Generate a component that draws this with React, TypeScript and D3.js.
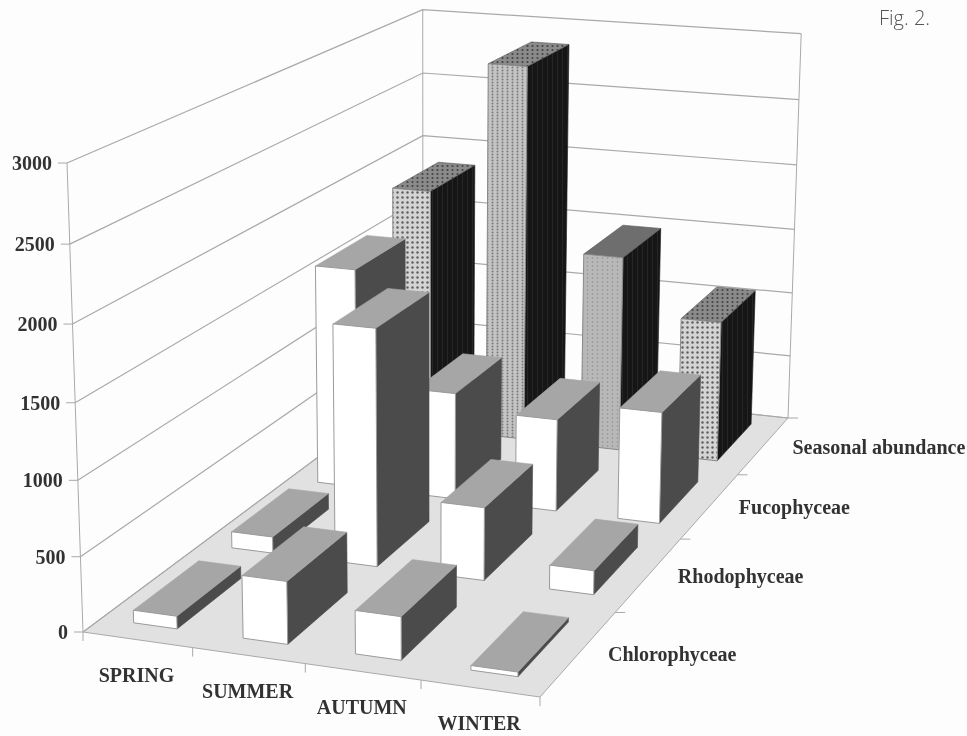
import * as d3 from "d3";

type Pt = [number, number];

const seasons = ["SPRING", "SUMMER", "AUTUMN", "WINTER"];
const groups = ["Chlorophyceae", "Rhodophyceae", "Fucophyceae", "Seasonal abundance"];
const chlorophyceae = [85, 415, 285, 30];
const rhodophyceae = [115, 1645, 505, 165];
const fucophyceae = [1610, 780, 670, 805];
const seasonalAbundance = [1855, 2850, 1480, 1060];
const yTicks = [0, 500, 1000, 1500, 2000, 2500, 3000];
const rows = [chlorophyceae, rhodophyceae, fucophyceae, seasonalAbundance];

const width = 967;
const height = 736;

/* box corners */
const O: Pt = [83, 632];
const B: Pt = [540, 697];
const C: Pt = [788, 418];
const D: Pt = [423, 379];
const E: Pt = [67, 163];
const zPerspective = -0.044;

// projective map of the unit cube, from the corners above
function makeProjection() {
  const rhs: Pt = [C[0] + O[0] - B[0] - D[0], C[1] + O[1] - B[1] - D[1]];
  const a: Pt = [B[0] - C[0], B[1] - C[1]];
  const b: Pt = [D[0] - C[0], D[1] - C[1]];
  const det = a[0] * b[1] - a[1] * b[0];
  const g = (rhs[0] * b[1] - rhs[1] * b[0]) / det;
  const h = (a[0] * rhs[1] - a[1] * rhs[0]) / det;
  const i = zPerspective;
  const ux = [0, 1].map((k) => (1 + g) * B[k] - O[k]);
  const uy = [0, 1].map((k) => (1 + h) * D[k] - O[k]);
  const uz = [0, 1].map((k) => (1 + i) * E[k] - O[k]);
  return (x: number, y: number, z: number): Pt => {
    const w = 1 + g * x + h * y + i * z;
    return [
      (ux[0] * x + uy[0] * y + uz[0] * z + O[0]) / w,
      (ux[1] * x + uy[1] * y + uz[1] * z + O[1]) / w,
    ];
  };
}

const project = makeProjection();
const xBand = d3.scaleBand<string>().domain(seasons).range([0, 1]).paddingInner(0.6).paddingOuter(0.3);
const depthBand = d3.scaleBand<string>().domain(groups).range([0, 1]).paddingInner(0.35).paddingOuter(0.17);
const zScale = d3.scaleLinear().domain([0, 3000]).range([0, 1]);
const poly = d3.line<Pt>().curve(d3.curveLinearClosed);

const GRID = "#a9a9a9";
const INK = "#333";
const SERIF = "'Liberation Serif', serif";

function Bar({ season, group, value, row, col }: { season: string; group: string; value: number; row: number; col: number }) {
  const x0 = xBand(season)!;
  const x1 = x0 + xBand.bandwidth();
  const y0 = depthBand(group)!;
  const y1 = y0 + depthBand.bandwidth();
  const z = zScale(value);
  const back = row === 3;
  const front = back ? `url(#${col === 1 ? "fineFront" : col === 2 ? "greyFront" : "dotFront"})` : "#ffffff";
  const top = back ? `url(#${col === 2 ? "greyTop" : "dotTop"})` : "#a6a6a6";
  const side = back ? "url(#darkSide)" : "#4b4b4b";
  return (
    <g>
      <path
        d={poly([project(x1, y0, 0), project(x1, y1, 0), project(x1, y1, z), project(x1, y0, z)])!}
        fill={side}
        stroke={back ? "#161616" : "#4b4b4b"}
        strokeWidth={0.6}
      />
      <path
        d={poly([project(x0, y0, z), project(x1, y0, z), project(x1, y1, z), project(x0, y1, z)])!}
        fill={top}
        stroke={back ? "#555" : "#a6a6a6"}
        strokeWidth={0.6}
      />
      <path
        d={poly([project(x0, y0, 0), project(x1, y0, 0), project(x1, y0, z), project(x0, y0, z)])!}
        fill={front}
        stroke={back ? "#888" : "#9a9a9a"}
        strokeWidth={1}
      />
    </g>
  );
}

export default function App() {
  return (
    <svg
      width={width}
      height={height}
      style={{ position: "absolute", left: 0, top: 0, background: "#fdfdfd" }}
    >
      <defs>
        <pattern id="dotFront" width={5} height={5} patternUnits="userSpaceOnUse">
          <rect width={5} height={5} fill="#d4d4d4" />
          <circle cx={2.5} cy={2.5} r={1.2} fill="#5e5e5e" />
        </pattern>
        <pattern id="fineFront" width={5} height={3} patternUnits="userSpaceOnUse">
          <rect width={5} height={3} fill="#c4c4c4" />
          <circle cx={2.5} cy={1.5} r={1} fill="#7c7c7c" />
        </pattern>
        <pattern id="greyFront" width={5} height={4} patternUnits="userSpaceOnUse">
          <rect width={5} height={4} fill="#b8b8b8" />
          <circle cx={2.5} cy={2} r={0.8} fill="#909090" />
        </pattern>
        <pattern id="dotTop" width={5} height={4} patternUnits="userSpaceOnUse">
          <rect width={5} height={4} fill="#8a8a8a" />
          <circle cx={2.5} cy={2} r={1.1} fill="#444" />
        </pattern>
        <pattern id="greyTop" width={4} height={4} patternUnits="userSpaceOnUse">
          <rect width={4} height={4} fill="#6e6e6e" />
        </pattern>
        <pattern id="darkSide" width={5} height={5} patternUnits="userSpaceOnUse">
          <rect width={5} height={5} fill="#191919" />
          <rect x={2} width={1} height={5} fill="#262626" />
        </pattern>
        <filter id="scan" x="0" y="0" width="100%" height="100%">
          <feGaussianBlur stdDeviation={0.55} />
        </filter>
      </defs>

      <g filter="url(#scan)">
        {/* Floor */}
        <path d={poly([project(0, 0, 0), project(1, 0, 0), project(1, 1, 0), project(0, 1, 0)])!} fill="#e1e1e1" stroke={GRID} strokeWidth={1} />

        {/* Walls */}
        {yTicks.map((t) => {
          const z = zScale(t);
          const a = project(0, 0, z);
          const b = project(0, 1, z);
          const c = project(1, 1, z);
          return (
            <g key={t}>
              <line x1={a[0] - 9} y1={a[1]} x2={a[0]} y2={a[1]} stroke={GRID} />
              <path d={d3.line()([a, b, c])!} fill="none" stroke={GRID} strokeWidth={1.2} />
              <text x={a[0] - 15} y={a[1]} textAnchor="end" dominantBaseline="central" fontFamily={SERIF} fontSize={20} fontWeight={700} fill={INK}>
                {t}
              </text>
            </g>
          );
        })}
        <path d={d3.line()([project(0, 0, 0), project(0, 0, 1)])!} stroke={GRID} fill="none" />
        <path d={d3.line()([project(0, 1, 0), project(0, 1, 1)])!} stroke={GRID} fill="none" />
        <path d={d3.line()([project(1, 1, 0), project(1, 1, 1)])!} stroke={GRID} fill="none" />

        {/* Axis ticks along the floor */}
        {d3.range(0, seasons.length + 1).map((i) => {
          const p = project(i / seasons.length, 0, 0);
          return <line key={i} x1={p[0]} y1={p[1]} x2={p[0]} y2={p[1] + 9} stroke={GRID} />;
        })}
        {d3.range(1, groups.length + 1).map((i) => {
          const p = project(1, i / groups.length, 0);
          return <line key={i} x1={p[0]} y1={p[1]} x2={p[0] + 10} y2={p[1]} stroke={GRID} />;
        })}

        {/* Bars, far row first */}
        {d3.range(rows.length - 1, -1, -1).map((r) =>
          seasons.map((s, c) => (
            <Bar key={`${r}-${c}`} season={s} group={groups[r]} value={rows[r][c]} row={r} col={c} />
          )),
        )}

        {/* Category labels */}
        {seasons.map((s, i) => {
          const p = project((i + 0.5) / seasons.length, 0, 0);
          return (
            <text key={s} x={p[0] - 1} y={p[1] + 35} textAnchor="middle" fontFamily={SERIF} fontSize={20} fontWeight={700} fill={INK} dominantBaseline="central">
              {s}
            </text>
          );
        })}
        {groups.map((g, i) => {
          const p = project(1, (i + 0.5) / groups.length, 0);
          return (
            <text key={g} x={p[0] + 29} y={p[1] + 1} fontFamily={SERIF} fontSize={20} fontWeight={700} fill={INK} dominantBaseline="central">
              {g}
            </text>
          );
        })}

        <text x={879} y={25} fontFamily="'Open Sans', sans-serif" fontWeight={300} fontSize={20} fill="#555">
          Fig. 2.
        </text>
      </g>
    </svg>
  );
}
